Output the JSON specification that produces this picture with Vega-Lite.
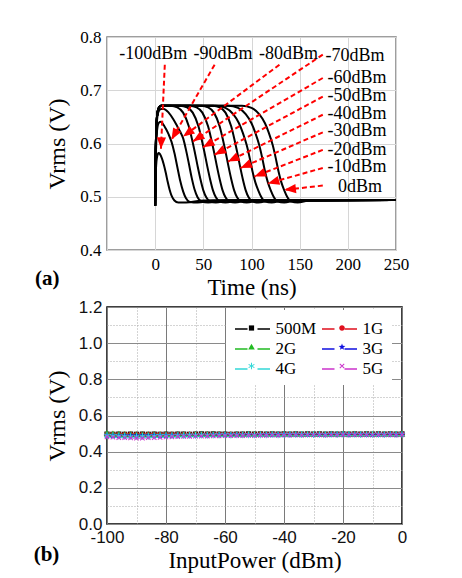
{
"$schema": "https://vega.github.io/schema/vega-lite/v6.json",
"autosize": {"type": "pad"},
"padding": {"left": 32, "top": 27, "right": 5, "bottom": 5},
"background": "white",
"bounds": "flush",
"spacing": 57,
"config": {"view": {"stroke": null}},
"datasets": {
"curves": [
{"c":"-100","t":0,"v":0.483},{"c":"-100","t":0.4,"v":0.53},{"c":"-100","t":1,"v":0.558},{"c":"-100","t":2,"v":0.575},{"c":"-100","t":3.5,"v":0.582},{"c":"-100","t":5,"v":0.58},{"c":"-100","t":7,"v":0.572},{"c":"-100","t":9,"v":0.56},{"c":"-100","t":11,"v":0.545},{"c":"-100","t":13,"v":0.528},{"c":"-100","t":15,"v":0.513},{"c":"-100","t":17,"v":0.502},{"c":"-100","t":20,"v":0.493},{"c":"-100","t":24,"v":0.489},{"c":"-100","t":32,"v":0.489},{"c":"-100","t":50,"v":0.493},{"c":"-100","t":250,"v":0.494},
{"c":"-90","t":0,"v":0.483},{"c":"-90","t":0.4,"v":0.55},{"c":"-90","t":1,"v":0.595},{"c":"-90","t":2,"v":0.625},{"c":"-90","t":3.5,"v":0.638},{"c":"-90","t":5.5,"v":0.641},{"c":"-90","t":8,"v":0.637},{"c":"-90","t":11,"v":0.628},{"c":"-90","t":14,"v":0.617},{"c":"-90","t":17,"v":0.603},{"c":"-90","t":20,"v":0.582},{"c":"-90","t":23,"v":0.556},{"c":"-90","t":26,"v":0.53},{"c":"-90","t":29,"v":0.51},{"c":"-90","t":32,"v":0.497},{"c":"-90","t":36,"v":0.49},{"c":"-90","t":44,"v":0.489},{"c":"-90","t":60,"v":0.493},{"c":"-90","t":250,"v":0.494},
{"c":"-80","t":0,"v":0.483},{"c":"-80","t":0.4,"v":0.56},{"c":"-80","t":1,"v":0.612},{"c":"-80","t":2,"v":0.645},{"c":"-80","t":3.5,"v":0.66},{"c":"-80","t":6,"v":0.665},{"c":"-80","t":9,"v":0.665},{"c":"-80","t":14,"v":0.658},{"c":"-80","t":19,"v":0.645},{"c":"-80","t":23,"v":0.632},{"c":"-80","t":26,"v":0.622},{"c":"-80","t":29,"v":0.61},{"c":"-80","t":32,"v":0.588},{"c":"-80","t":35,"v":0.562},{"c":"-80","t":38,"v":0.535},{"c":"-80","t":41,"v":0.513},{"c":"-80","t":44,"v":0.499},{"c":"-80","t":48,"v":0.491},{"c":"-80","t":55,"v":0.489},{"c":"-80","t":70,"v":0.493},{"c":"-80","t":250,"v":0.494},
{"c":"-70","t":0,"v":0.483},{"c":"-70","t":0.4,"v":0.565},{"c":"-70","t":1,"v":0.618},{"c":"-70","t":2,"v":0.652},{"c":"-70","t":3.5,"v":0.666},{"c":"-70","t":6,"v":0.671},{"c":"-70","t":16,"v":0.671},{"c":"-70","t":23,"v":0.668},{"c":"-70","t":29,"v":0.658},{"c":"-70","t":35,"v":0.632},{"c":"-70","t":38,"v":0.61},{"c":"-70","t":41,"v":0.585},{"c":"-70","t":44,"v":0.558},{"c":"-70","t":47,"v":0.533},{"c":"-70","t":50,"v":0.512},{"c":"-70","t":53,"v":0.499},{"c":"-70","t":57,"v":0.491},{"c":"-70","t":63,"v":0.489},{"c":"-70","t":76,"v":0.493},{"c":"-70","t":250,"v":0.494},
{"c":"-60","t":0,"v":0.483},{"c":"-60","t":0.4,"v":0.565},{"c":"-60","t":1,"v":0.618},{"c":"-60","t":2,"v":0.652},{"c":"-60","t":3.5,"v":0.666},{"c":"-60","t":6,"v":0.671},{"c":"-60","t":26,"v":0.671},{"c":"-60","t":33,"v":0.668},{"c":"-60","t":39,"v":0.658},{"c":"-60","t":45,"v":0.632},{"c":"-60","t":48,"v":0.61},{"c":"-60","t":51,"v":0.585},{"c":"-60","t":54,"v":0.558},{"c":"-60","t":57,"v":0.533},{"c":"-60","t":60,"v":0.512},{"c":"-60","t":63,"v":0.499},{"c":"-60","t":67,"v":0.491},{"c":"-60","t":73,"v":0.489},{"c":"-60","t":86,"v":0.493},{"c":"-60","t":250,"v":0.494},
{"c":"-50","t":0,"v":0.483},{"c":"-50","t":0.4,"v":0.565},{"c":"-50","t":1,"v":0.618},{"c":"-50","t":2,"v":0.652},{"c":"-50","t":3.5,"v":0.666},{"c":"-50","t":6,"v":0.671},{"c":"-50","t":36,"v":0.671},{"c":"-50","t":43,"v":0.668},{"c":"-50","t":49,"v":0.658},{"c":"-50","t":55,"v":0.632},{"c":"-50","t":58,"v":0.61},{"c":"-50","t":61,"v":0.585},{"c":"-50","t":64,"v":0.558},{"c":"-50","t":67,"v":0.533},{"c":"-50","t":70,"v":0.512},{"c":"-50","t":73,"v":0.499},{"c":"-50","t":77,"v":0.491},{"c":"-50","t":83,"v":0.489},{"c":"-50","t":96,"v":0.493},{"c":"-50","t":250,"v":0.494},
{"c":"-40","t":0,"v":0.483},{"c":"-40","t":0.4,"v":0.565},{"c":"-40","t":1,"v":0.618},{"c":"-40","t":2,"v":0.652},{"c":"-40","t":3.5,"v":0.666},{"c":"-40","t":6,"v":0.671},{"c":"-40","t":48,"v":0.671},{"c":"-40","t":55,"v":0.668},{"c":"-40","t":61,"v":0.658},{"c":"-40","t":67,"v":0.632},{"c":"-40","t":70,"v":0.61},{"c":"-40","t":73,"v":0.585},{"c":"-40","t":76,"v":0.558},{"c":"-40","t":79,"v":0.533},{"c":"-40","t":82,"v":0.512},{"c":"-40","t":85,"v":0.499},{"c":"-40","t":89,"v":0.491},{"c":"-40","t":95,"v":0.489},{"c":"-40","t":108,"v":0.493},{"c":"-40","t":250,"v":0.494},
{"c":"-30","t":0,"v":0.483},{"c":"-30","t":0.4,"v":0.565},{"c":"-30","t":1,"v":0.618},{"c":"-30","t":2,"v":0.652},{"c":"-30","t":3.5,"v":0.666},{"c":"-30","t":6,"v":0.671},{"c":"-30","t":60,"v":0.671},{"c":"-30","t":67,"v":0.668},{"c":"-30","t":73,"v":0.658},{"c":"-30","t":79,"v":0.632},{"c":"-30","t":82,"v":0.61},{"c":"-30","t":85,"v":0.585},{"c":"-30","t":88,"v":0.558},{"c":"-30","t":91,"v":0.533},{"c":"-30","t":94,"v":0.512},{"c":"-30","t":97,"v":0.499},{"c":"-30","t":101,"v":0.491},{"c":"-30","t":107,"v":0.489},{"c":"-30","t":120,"v":0.493},{"c":"-30","t":250,"v":0.494},
{"c":"-20","t":0,"v":0.483},{"c":"-20","t":0.4,"v":0.565},{"c":"-20","t":1,"v":0.618},{"c":"-20","t":2,"v":0.652},{"c":"-20","t":3.5,"v":0.666},{"c":"-20","t":6,"v":0.671},{"c":"-20","t":63,"v":0.671},{"c":"-20","t":73,"v":0.667},{"c":"-20","t":81,"v":0.655},{"c":"-20","t":87,"v":0.638},{"c":"-20","t":91,"v":0.62},{"c":"-20","t":95,"v":0.597},{"c":"-20","t":98,"v":0.574},{"c":"-20","t":101,"v":0.548},{"c":"-20","t":104,"v":0.527},{"c":"-20","t":107,"v":0.512},{"c":"-20","t":110,"v":0.5},{"c":"-20","t":114,"v":0.491},{"c":"-20","t":121,"v":0.489},{"c":"-20","t":133,"v":0.493},{"c":"-20","t":250,"v":0.494},
{"c":"-10","t":0,"v":0.483},{"c":"-10","t":0.4,"v":0.565},{"c":"-10","t":1,"v":0.618},{"c":"-10","t":2,"v":0.652},{"c":"-10","t":3.5,"v":0.666},{"c":"-10","t":6,"v":0.671},{"c":"-10","t":76,"v":0.671},{"c":"-10","t":86,"v":0.667},{"c":"-10","t":94,"v":0.655},{"c":"-10","t":100,"v":0.638},{"c":"-10","t":104,"v":0.62},{"c":"-10","t":108,"v":0.597},{"c":"-10","t":111,"v":0.574},{"c":"-10","t":114,"v":0.548},{"c":"-10","t":117,"v":0.527},{"c":"-10","t":120,"v":0.512},{"c":"-10","t":123,"v":0.5},{"c":"-10","t":127,"v":0.491},{"c":"-10","t":134,"v":0.489},{"c":"-10","t":146,"v":0.493},{"c":"-10","t":250,"v":0.494},
{"c":"0","t":0,"v":0.483},{"c":"0","t":0.4,"v":0.565},{"c":"0","t":1,"v":0.618},{"c":"0","t":2,"v":0.652},{"c":"0","t":3.5,"v":0.666},{"c":"0","t":6,"v":0.671},{"c":"0","t":90,"v":0.671},{"c":"0","t":100,"v":0.667},{"c":"0","t":108,"v":0.655},{"c":"0","t":114,"v":0.638},{"c":"0","t":118,"v":0.62},{"c":"0","t":122,"v":0.597},{"c":"0","t":125,"v":0.574},{"c":"0","t":128,"v":0.548},{"c":"0","t":131,"v":0.527},{"c":"0","t":134,"v":0.512},{"c":"0","t":137,"v":0.5},{"c":"0","t":141,"v":0.491},{"c":"0","t":148,"v":0.489},{"c":"0","t":160,"v":0.493},{"c":"0","t":250,"v":0.494}
],
"arrows": [
{"lab":"-100dBm","xs":10,"ys":0.748,"xe":6,"ye":0.59},
{"lab":"-90dBm","xs":61.7,"ys":0.748,"xe":16.9,"ye":0.607},
{"lab":"-80dBm","xs":129,"ys":0.748,"xe":29,"ye":0.613},
{"lab":"-70dBm","xs":174,"ys":0.767,"xe":39.3,"ye":0.604},
{"lab":"-60dBm","xs":174,"ys":0.723,"xe":49.7,"ye":0.593},
{"lab":"-50dBm","xs":174,"ys":0.688,"xe":61.7,"ye":0.579},
{"lab":"-40dBm","xs":174,"ys":0.654,"xe":75.6,"ye":0.566},
{"lab":"-30dBm","xs":174,"ys":0.621,"xe":88.6,"ye":0.554},
{"lab":"-20dBm","xs":174,"ys":0.588,"xe":103.1,"ye":0.538},
{"lab":"-10dBm","xs":174,"ys":0.554,"xe":117,"ye":0.525},
{"lab":"0dBm","xs":174,"ys":0.521,"xe":134.2,"ye":0.513}
],
"labels": [
{"lab":"-100dBm","x":-2,"y":0.769},
{"lab":"-90dBm","x":70.4,"y":0.769},
{"lab":"-80dBm","x":138.3,"y":0.769},
{"lab":"-70dBm","x":207.4,"y":0.765},
{"lab":"-60dBm","x":209.4,"y":0.723},
{"lab":"-50dBm","x":209.4,"y":0.689},
{"lab":"-40dBm","x":209.4,"y":0.656},
{"lab":"-30dBm","x":209.4,"y":0.623},
{"lab":"-20dBm","x":209.4,"y":0.588},
{"lab":"-10dBm","x":209.4,"y":0.555},
{"lab":"0dBm","x":212.5,"y":0.519}
],
"tagA": [{"lab":"(a)","x":-112,"y":0.346}],
"tagB": [{"lab":"(b)","x":-120.5,"y":-0.17}],
"sweep": [
{"p":-100,"500M":0.497,"1G":0.495,"2G":0.501,"3G":0.491,"4G":0.489,"5G":0.482},
{"p":-98,"500M":0.496,"1G":0.494,"2G":0.499,"3G":0.490,"4G":0.487,"5G":0.480},
{"p":-96,"500M":0.497,"1G":0.495,"2G":0.497,"3G":0.489,"4G":0.486,"5G":0.478},
{"p":-94,"500M":0.496,"1G":0.494,"2G":0.496,"3G":0.489,"4G":0.485,"5G":0.477},
{"p":-92,"500M":0.497,"1G":0.495,"2G":0.496,"3G":0.490,"4G":0.484,"5G":0.476},
{"p":-90,"500M":0.496,"1G":0.494,"2G":0.495,"3G":0.489,"4G":0.484,"5G":0.475},
{"p":-88,"500M":0.497,"1G":0.494,"2G":0.496,"3G":0.490,"4G":0.485,"5G":0.475},
{"p":-86,"500M":0.496,"1G":0.495,"2G":0.495,"3G":0.490,"4G":0.485,"5G":0.477},
{"p":-84,"500M":0.497,"1G":0.494,"2G":0.496,"3G":0.491,"4G":0.486,"5G":0.478},
{"p":-82,"500M":0.496,"1G":0.495,"2G":0.495,"3G":0.490,"4G":0.487,"5G":0.479},
{"p":-80,"500M":0.497,"1G":0.494,"2G":0.496,"3G":0.491,"4G":0.488,"5G":0.481},
{"p":-78,"500M":0.496,"1G":0.495,"2G":0.495,"3G":0.491,"4G":0.488,"5G":0.482},
{"p":-76,"500M":0.497,"1G":0.494,"2G":0.496,"3G":0.492,"4G":0.489,"5G":0.483},
{"p":-74,"500M":0.497,"1G":0.495,"2G":0.496,"3G":0.491,"4G":0.489,"5G":0.484},
{"p":-72,"500M":0.496,"1G":0.494,"2G":0.495,"3G":0.492,"4G":0.490,"5G":0.484},
{"p":-70,"500M":0.497,"1G":0.495,"2G":0.496,"3G":0.492,"4G":0.490,"5G":0.485},
{"p":-68,"500M":0.498,"1G":0.495,"2G":0.497,"3G":0.493,"4G":0.491,"5G":0.486},
{"p":-66,"500M":0.497,"1G":0.494,"2G":0.496,"3G":0.492,"4G":0.490,"5G":0.486},
{"p":-64,"500M":0.498,"1G":0.495,"2G":0.497,"3G":0.493,"4G":0.491,"5G":0.487},
{"p":-62,"500M":0.497,"1G":0.494,"2G":0.496,"3G":0.492,"4G":0.491,"5G":0.487},
{"p":-60,"500M":0.497,"1G":0.495,"2G":0.496,"3G":0.493,"4G":0.492,"5G":0.488},
{"p":-58,"500M":0.496,"1G":0.494,"2G":0.495,"3G":0.492,"4G":0.491,"5G":0.488},
{"p":-56,"500M":0.497,"1G":0.495,"2G":0.496,"3G":0.493,"4G":0.492,"5G":0.489},
{"p":-54,"500M":0.497,"1G":0.494,"2G":0.496,"3G":0.493,"4G":0.492,"5G":0.489},
{"p":-52,"500M":0.498,"1G":0.495,"2G":0.497,"3G":0.494,"4G":0.493,"5G":0.490},
{"p":-50,"500M":0.497,"1G":0.495,"2G":0.496,"3G":0.493,"4G":0.492,"5G":0.489},
{"p":-48,"500M":0.498,"1G":0.496,"2G":0.497,"3G":0.494,"4G":0.493,"5G":0.490},
{"p":-46,"500M":0.497,"1G":0.495,"2G":0.496,"3G":0.494,"4G":0.493,"5G":0.490},
{"p":-44,"500M":0.498,"1G":0.496,"2G":0.497,"3G":0.494,"4G":0.494,"5G":0.491},
{"p":-42,"500M":0.497,"1G":0.495,"2G":0.496,"3G":0.494,"4G":0.493,"5G":0.490},
{"p":-40,"500M":0.498,"1G":0.496,"2G":0.497,"3G":0.495,"4G":0.494,"5G":0.491},
{"p":-38,"500M":0.497,"1G":0.495,"2G":0.496,"3G":0.494,"4G":0.494,"5G":0.491},
{"p":-36,"500M":0.498,"1G":0.496,"2G":0.497,"3G":0.495,"4G":0.494,"5G":0.492},
{"p":-34,"500M":0.497,"1G":0.495,"2G":0.496,"3G":0.494,"4G":0.494,"5G":0.491},
{"p":-32,"500M":0.498,"1G":0.496,"2G":0.497,"3G":0.495,"4G":0.495,"5G":0.492},
{"p":-30,"500M":0.497,"1G":0.495,"2G":0.496,"3G":0.495,"4G":0.494,"5G":0.492},
{"p":-28,"500M":0.498,"1G":0.496,"2G":0.497,"3G":0.495,"4G":0.495,"5G":0.492},
{"p":-26,"500M":0.497,"1G":0.495,"2G":0.496,"3G":0.494,"4G":0.494,"5G":0.491},
{"p":-24,"500M":0.498,"1G":0.496,"2G":0.497,"3G":0.495,"4G":0.495,"5G":0.492},
{"p":-22,"500M":0.497,"1G":0.495,"2G":0.497,"3G":0.495,"4G":0.494,"5G":0.492},
{"p":-20,"500M":0.498,"1G":0.496,"2G":0.498,"3G":0.495,"4G":0.496,"5G":0.493},
{"p":-18,"500M":0.497,"1G":0.495,"2G":0.497,"3G":0.494,"4G":0.495,"5G":0.492},
{"p":-16,"500M":0.498,"1G":0.496,"2G":0.497,"3G":0.495,"4G":0.495,"5G":0.493},
{"p":-14,"500M":0.497,"1G":0.495,"2G":0.496,"3G":0.495,"4G":0.494,"5G":0.492},
{"p":-12,"500M":0.498,"1G":0.496,"2G":0.497,"3G":0.495,"4G":0.495,"5G":0.493},
{"p":-10,"500M":0.497,"1G":0.495,"2G":0.497,"3G":0.494,"4G":0.495,"5G":0.492},
{"p":-8,"500M":0.498,"1G":0.496,"2G":0.497,"3G":0.495,"4G":0.495,"5G":0.493},
{"p":-6,"500M":0.497,"1G":0.495,"2G":0.496,"3G":0.495,"4G":0.494,"5G":0.492},
{"p":-4,"500M":0.498,"1G":0.496,"2G":0.497,"3G":0.495,"4G":0.495,"5G":0.493},
{"p":-2,"500M":0.497,"1G":0.495,"2G":0.497,"3G":0.494,"4G":0.495,"5G":0.492},
{"p":0,"500M":0.498,"1G":0.496,"2G":0.497,"3G":0.495,"4G":0.495,"5G":0.493}
]
},
"vconcat": [
{
"width": 289, "height": 213,
"view": {"stroke": "#7f7f7f", "strokeWidth": 1.5},
"layer": [
{
"data": {"name": "curves"},
"mark": {"type": "line", "color": "black", "strokeWidth": 2, "interpolate": "monotone"},
"encoding": {
"x": {"field": "t", "type": "quantitative", "scale": {"domain": [-50, 250], "nice": false},
 "axis": {"title": "Time (ns)", "values": [-50,-25,0,25,50,75,100,125,150,175,200,225,250],
  "labelExpr": "datum.value >= 0 && datum.value % 50 == 0 ? '' + datum.value : ''",
  "grid": true, "gridColor": "#d6d6d6", "gridWidth": 1, "domain": false, "ticks": false,
  "labelFont": "Liberation Serif", "labelFontSize": 17, "labelColor": "#000", "labelPadding": 6,
  "labelFlush": false, "labelOverlap": false,
  "titleFont": "Liberation Serif", "titleFontSize": 23, "titleFontWeight": "normal", "titleColor": "#000", "titlePadding": 4}},
"y": {"field": "v", "type": "quantitative", "scale": {"domain": [0.4, 0.8], "nice": false},
 "axis": {"title": "Vrms (V)", "values": [0.4,0.45,0.5,0.55,0.6,0.65,0.7,0.75,0.8],
  "labelExpr": "round(datum.value*20) % 2 == 0 ? format(datum.value, '.1f') : ''",
  "grid": true, "gridColor": "#d6d6d6", "gridWidth": 1, "domain": false, "ticks": false,
  "labelFont": "Liberation Serif", "labelFontSize": 17, "labelColor": "#000", "labelPadding": 6,
  "labelFlush": false, "labelOverlap": false,
  "titleFont": "Liberation Serif", "titleFontSize": 24, "titleFontWeight": "normal", "titleColor": "#000", "titlePadding": 10}},
"detail": {"field": "c", "type": "nominal"}
}
},
{
"data": {"name": "arrows"},
"mark": {"type": "rule", "color": "#ff0000", "strokeWidth": 2, "strokeDash": [5, 3]},
"encoding": {
"x": {"field": "xs", "type": "quantitative", "scale": {"domain": [-50, 250], "nice": false}},
"y": {"field": "ys", "type": "quantitative", "scale": {"domain": [0.4, 0.8], "nice": false}},
"x2": {"field": "xe"},
"y2": {"field": "ye"}
}
},
{
"data": {"name": "arrows"},
"transform": [{"calculate": "atan2((datum.xe-datum.xs)*0.9633,(datum.ye-datum.ys)*532.5)*180/PI", "as": "ang"}],
"mark": {"type": "point", "shape": "M0,0L0.4,1L-0.4,1Z", "size": 529, "filled": true, "color": "#ff0000", "opacity": 1, "strokeWidth": 0},
"encoding": {
"x": {"field": "xe", "type": "quantitative", "scale": {"domain": [-50, 250], "nice": false}},
"y": {"field": "ye", "type": "quantitative", "scale": {"domain": [0.4, 0.8], "nice": false}},
"angle": {"field": "ang", "type": "quantitative", "scale": null}
}
},
{
"data": {"name": "labels"},
"mark": {"type": "text", "font": "Liberation Serif", "fontSize": 18, "color": "#000", "align": "center", "baseline": "middle"},
"encoding": {
"x": {"field": "x", "type": "quantitative", "scale": {"domain": [-50, 250], "nice": false}},
"y": {"field": "y", "type": "quantitative", "scale": {"domain": [0.4, 0.8], "nice": false}},
"text": {"field": "lab"}
}
},
{
"data": {"name": "tagA"},
"mark": {"type": "text", "font": "Liberation Serif", "fontSize": 21, "fontWeight": "bold", "color": "#000", "align": "center", "baseline": "middle"},
"encoding": {
"x": {"field": "x", "type": "quantitative", "scale": {"domain": [-50, 250], "nice": false}},
"y": {"field": "y", "type": "quantitative", "scale": {"domain": [0.4, 0.8], "nice": false}},
"text": {"field": "lab"}
}
}
]
},
{
"width": 295, "height": 217,
"view": {"stroke": "#000", "strokeWidth": 1.5},
"resolve": {"axis": {"x": "independent", "y": "independent"}},
"layer": [
{
"data": {"name": "sweep"},
"transform": [{"fold": ["500M","1G","2G","3G","4G","5G"], "as": ["g", "v"]}],
"mark": {"type": "line", "strokeWidth": 1},
"encoding": {
"x": {"field": "p", "type": "quantitative", "scale": {"domain": [-100, 0], "nice": false},
 "axis": {"orient": "bottom", "title": "InputPower (dBm)", "values": [-100,-80,-60,-40,-20,0],
  "labelExpr": "'' + datum.value",
  "grid": true, "gridColor": "#7a7a7a", "gridWidth": 1, "domain": false, "ticks": false,
  "labelFont": "Liberation Sans", "labelFontSize": 17, "labelColor": "#111", "labelPadding": 5,
  "labelFlush": false, "labelOverlap": false,
  "titleFont": "Liberation Serif", "titleFontSize": 23, "titleFontWeight": "normal", "titleColor": "#000", "titlePadding": 4}},
"y": {"field": "v", "type": "quantitative", "scale": {"domain": [0, 1.2], "nice": false},
 "axis": {"orient": "left", "title": "Vrms (V)", "values": [0,0.2,0.4,0.6,0.8,1.0,1.2], "format": ".1f",
  "grid": true, "gridColor": "#8a8a8a", "gridWidth": 1, "domain": false, "ticks": false,
  "labelFont": "Liberation Sans", "labelFontSize": 17, "labelColor": "#111", "labelPadding": 5,
  "labelFlush": false, "labelOverlap": false,
  "titleFont": "Liberation Serif", "titleFontSize": 24, "titleFontWeight": "normal", "titleColor": "#000", "titlePadding": 9}},
"stroke": {"field": "g", "type": "nominal", "sort": ["500M","1G","2G","3G","4G","5G"],
 "scale": {"range": ["#000000","#e0101e","#22bb22","#1010e0","#33d8d8","#cc33cc"]},
 "legend": {"title": null, "orient": "none", "direction": "horizontal", "legendX": 119, "legendY": 273, "columns": 2,
  "symbolType": "M-1.75,0H-0.5M0.5,0H1.75", "symbolSize": 400, "symbolStrokeWidth": 1.3, "symbolOffset": 7.5,
  "labelFont": "Liberation Serif", "labelFontSize": 17, "labelColor": "#000", "labelOffset": 12,
  "columnPadding": 2, "rowPadding": 1, "padding": 8, "fillColor": "white",
  "encode": {"symbols": {"update": {"stroke": {"value": "#000"}, "fill": {"value": "transparent"}, "strokeWidth": {"value": 1.3}}}}}}
}
},
{
"data": {"name": "sweep"},
"transform": [{"fold": ["500M","1G","2G","3G","4G","5G"], "as": ["f", "v"]}],
"mark": {"type": "point", "filled": true, "size": 400, "opacity": 1, "strokeWidth": 0},
"encoding": {
"x": {"field": "p", "type": "quantitative", "scale": {"domain": [-100, 0], "nice": false},
 "axis": {"orient": "bottom", "title": null, "values": [-90,-70,-50,-30,-10], "labels": false,
  "grid": true, "gridColor": "#a8a8a8", "gridDash": [1, 2], "gridWidth": 1, "domain": false, "ticks": false}},
"y": {"field": "v", "type": "quantitative", "scale": {"domain": [0, 1.2], "nice": false},
 "axis": {"orient": "left", "title": null, "values": [0.1,0.3,0.5,0.7,0.9,1.1], "labels": false,
  "grid": true, "gridColor": "#a8a8a8", "gridDash": [1, 2], "gridWidth": 1, "domain": false, "ticks": false}},
"color": {"field": "f", "type": "nominal",
 "scale": {"domain": ["500M","1G","2G","3G","4G","5G"], "range": ["#000000","#e0101e","#22bb22","#1010e0","#33d8d8","#cc33cc"]},
 "legend": {"title": null, "orient": "none", "direction": "horizontal", "legendX": 119, "legendY": 273, "columns": 2,
  "symbolSize": 400, "symbolStrokeWidth": 0, "symbolOpacity": 1, "symbolOffset": 7.5,
  "labelFont": "Liberation Serif", "labelFontSize": 17, "labelOpacity": 0, "labelOffset": 12,
  "columnPadding": 9.5, "rowPadding": 1, "padding": 8}},
"shape": {"field": "f", "type": "nominal",
 "scale": {"domain": ["500M","1G","2G","3G","4G","5G"],
  "range": [
   "M-0.26,-0.26H0.26V0.26H-0.26Z",
   "M0.28,0A0.28,0.28,0,1,1,-0.28,0A0.28,0.28,0,1,1,0.28,0Z",
   "M0,-0.33L0.33,0.26L-0.33,0.26Z",
   "M0,-0.35L0.087,-0.12L0.335,-0.109L0.141,0.046L0.207,0.285L0,0.148L-0.207,0.285L-0.141,0.046L-0.335,-0.109L-0.087,-0.12Z",
   "M-0.05,0.333L0.05,0.333L0.05,-0.333L-0.05,-0.333ZM0.263,0.209L0.313,0.124L-0.263,-0.209L-0.313,-0.124ZM-0.313,0.124L-0.263,0.209L0.313,-0.124L0.263,-0.209Z",
   "M0.187,0.257L0.257,0.187L-0.187,-0.257L-0.257,-0.187ZM-0.257,0.187L-0.187,0.257L0.257,-0.187L0.187,-0.257Z"
  ]},
 "legend": {"title": null, "orient": "none", "direction": "horizontal", "legendX": 119, "legendY": 273, "columns": 2,
  "symbolSize": 400, "symbolStrokeWidth": 0, "symbolOpacity": 1, "symbolOffset": 7.5,
  "labelFont": "Liberation Serif", "labelFontSize": 17, "labelOpacity": 0, "labelOffset": 12,
  "columnPadding": 9.5, "rowPadding": 1, "padding": 8}}
}
},
{
"data": {"name": "tagB"},
"mark": {"type": "text", "font": "Liberation Serif", "fontSize": 21, "fontWeight": "bold", "color": "#000", "align": "center", "baseline": "middle"},
"encoding": {
"x": {"field": "x", "type": "quantitative", "scale": {"domain": [-100, 0], "nice": false}, "axis": null},
"y": {"field": "y", "type": "quantitative", "scale": {"domain": [0, 1.2], "nice": false}, "axis": null},
"text": {"field": "lab"}
}
}
]
}
]
}
